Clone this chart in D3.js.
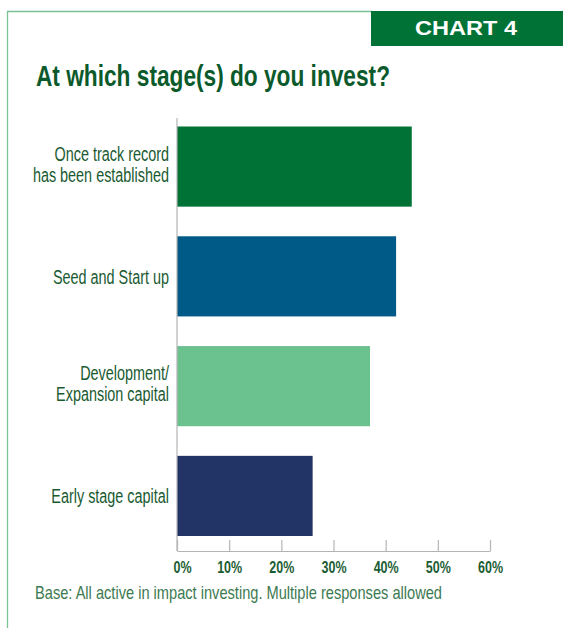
<!DOCTYPE html>
<html>
<head>
<meta charset="utf-8">
<script src="https://cdn.jsdelivr.net/npm/d3@7"></script>
<style>
  html, body { margin: 0; padding: 0; background: #fff; }
  svg { display: block; }
</style>
</head>
<body>
<svg id="chart" width="563" height="628"></svg>
<script>
// Investment stages, share of respondents (%)
const categories = [
  "Once track record\nhas been established",
  "Seed and Start up",
  "Development/\nExpansion capital",
  "Early stage capital"
];
const values = [45, 42, 37, 26];
const barColors = ["#007236", "#005a87", "#6bc28f", "#223366"];
const tickValues = [0, 10, 20, 30, 40, 50, 60];
const tickLabels = ["0%", "10%", "20%", "30%", "40%", "50%", "60%"];

const titleText = "At which stage(s) do you invest?";
const badgeText = "CHART 4";
const noteText = "Base: All active in impact investing. Multiple responses allowed";

const svg = d3.select("#chart");
const W = 563, H = 628;
const fontFamily = "'Liberation Sans', Arial, sans-serif";

// Squeeze a text element horizontally to mimic a condensed typeface
function condense(sel, factor) {
  sel.each(function () {
    const len = this.getComputedTextLength();
    d3.select(this).attr("textLength", len * factor).attr("lengthAdjust", "spacingAndGlyphs");
  });
}

// Frame: thin green rules on the left and top
svg.append("line")
  .attr("x1", 7.5).attr("x2", 7.5).attr("y1", 11.5).attr("y2", H)
  .attr("stroke", "#7cc196").attr("stroke-width", 1.3);
svg.append("line")
  .attr("x1", 7).attr("x2", 372).attr("y1", 11.5).attr("y2", 11.5)
  .attr("stroke", "#7cc196").attr("stroke-width", 1.3);

// Badge in the top-right corner
svg.append("rect")
  .attr("x", 371).attr("y", 11).attr("width", W - 371).attr("height", 35)
  .attr("fill", "#007236");
svg.append("text")
  .attr("x", 415).attr("y", 35)
  .attr("font-family", fontFamily).attr("font-weight", "bold")
  .attr("font-size", 21).attr("fill", "#fff")
  .attr("textLength", 102).attr("lengthAdjust", "spacingAndGlyphs")
  .text(badgeText);

// Title
svg.append("text")
  .attr("x", 36).attr("y", 86)
  .attr("font-family", fontFamily).attr("font-weight", "bold")
  .attr("font-size", 29).attr("fill", "#0b5a2b")
  .attr("textLength", 354).attr("lengthAdjust", "spacingAndGlyphs")
  .text(titleText);

// Scales
const x = d3.scaleLinear().domain([0, 60]).range([177, 490]);
const y = d3.scaleBand().domain(categories).range([126.5, 536]).paddingInner(0.27).paddingOuter(0);

// Bars
svg.append("g").selectAll("rect")
  .data(values)
  .join("rect")
  .attr("x", x(0))
  .attr("y", (d, i) => y(categories[i]))
  .attr("width", d => x(d) - x(0))
  .attr("height", y.bandwidth())
  .attr("fill", (d, i) => barColors[i]);

// Vertical axis rule
const axisColor = "#b4b4b4";
svg.append("line")
  .attr("x1", x(0)).attr("x2", x(0)).attr("y1", 118).attr("y2", 551)
  .attr("stroke", axisColor).attr("stroke-width", 1.2);

// Category labels
const labelG = svg.append("g")
  .attr("font-family", fontFamily).attr("font-size", 20)
  .attr("fill", "#1a5a31").attr("text-anchor", "end");
categories.forEach((c, i) => {
  const lines = c.split("\n");
  const cy = y(c) + y.bandwidth() / 2;
  const n = lines.length;
  lines.forEach((ln, j) => {
    labelG.append("text")
      .attr("x", 169)
      .attr("y", cy + 7.5 + (j - (n - 1) / 2) * 21 - (n > 1 ? 3 : 0))
      .text(ln)
      .call(condense, 0.72);
  });
});

// Horizontal axis with ticks pointing up
const xAxis = d3.axisBottom(x)
  .tickValues(tickValues)
  .tickFormat((d, i) => tickLabels[i])
  .tickSizeInner(-11)
  .tickSizeOuter(0);
const axG = svg.append("g").attr("transform", "translate(0,551)").call(xAxis);
axG.select(".domain").attr("stroke", axisColor).attr("stroke-width", 1.2);
axG.selectAll(".tick line").attr("stroke", axisColor).attr("stroke-width", 1.2);
axG.selectAll(".tick text")
  .attr("y", 22).attr("dy", null)
  .attr("font-family", fontFamily).attr("font-weight", "bold")
  .attr("font-size", 16).attr("fill", "#1b5c32")
  .attr("dx", (d, i) => i === 0 ? 5 : 0)
  .call(condense, 0.78);

// Footnote
svg.append("text")
  .attr("x", 35).attr("y", 599)
  .attr("font-family", fontFamily).attr("font-size", 18.5)
  .attr("fill", "#3d7a52")
  .attr("textLength", 407).attr("lengthAdjust", "spacingAndGlyphs")
  .text(noteText);
</script>
</body>
</html>
